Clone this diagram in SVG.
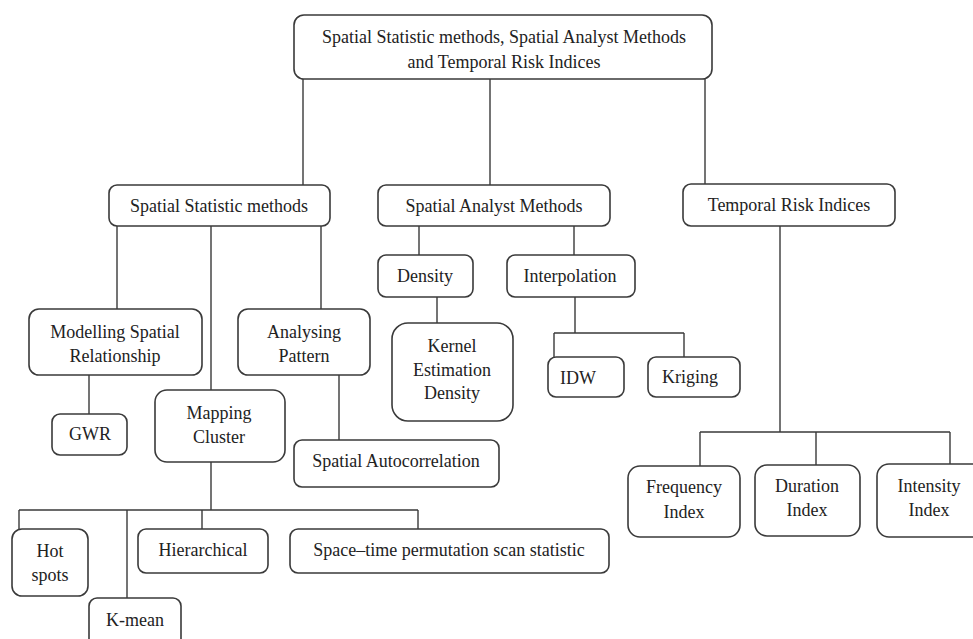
<svg xmlns="http://www.w3.org/2000/svg" width="973" height="639" viewBox="0 0 973 639">
<style>
.n rect{fill:#fff;stroke:#3a3a3a;stroke-width:1.6}
.n text{font-family:'Liberation Serif','Times New Roman',Times,serif;font-size:18px;fill:#222;text-anchor:middle}
#edges path{fill:none;stroke:#3a3a3a;stroke-width:1.4}
</style>
<rect width="973" height="639" fill="#fff"/>
<g id="edges">
<path d="M303,79V185M490,79V185M705,79V184"/>
<path d="M117,226V309M211,226V390M321,226V309"/>
<path d="M419,226V255M574,226V255M437,297V323"/>
<path d="M575,297V333M554,333H684M554,333V357M684,333V357"/>
<path d="M780,226V432M700,432H950M700,432V466M816,432V465M950,432V464"/>
<path d="M89,375V414M339,375V440"/>
<path d="M211,462V510M19,510H418M19,510V529M127,510V598M202,510V529M418,510V529"/>
</g>
<g id="top" class="n"><rect x="294" y="15" width="418" height="64" rx="10"/><text x="504" y="43">Spatial Statistic methods, Spatial Analyst Methods</text><text x="504" y="68">and Temporal Risk Indices</text></g>
<g id="ss" class="n"><rect x="109" y="185" width="221" height="41" rx="8"/><text x="219" y="212">Spatial Statistic methods</text></g>
<g id="sam" class="n"><rect x="378" y="185" width="232" height="41" rx="8"/><text x="494" y="212">Spatial Analyst Methods</text></g>
<g id="tri" class="n"><rect x="683" y="184" width="212" height="42" rx="8"/><text x="789" y="211">Temporal Risk Indices</text></g>
<g id="modelling" class="n"><rect x="29" y="309" width="173" height="66" rx="10"/><text x="115" y="338">Modelling Spatial</text><text x="115" y="362">Relationship</text></g>
<g id="analysing" class="n"><rect x="238" y="309" width="132" height="66" rx="10"/><text x="304" y="338">Analysing</text><text x="304" y="362">Pattern</text></g>
<g id="density" class="n"><rect x="378" y="255" width="95" height="42" rx="8"/><text x="425" y="282">Density</text></g>
<g id="interpolation" class="n"><rect x="507" y="255" width="128" height="42" rx="8"/><text x="570" y="282">Interpolation</text></g>
<g id="ked" class="n"><rect x="392" y="323" width="121" height="98" rx="16"/><text x="452" y="352">Kernel</text><text x="452" y="376">Estimation</text><text x="452" y="399">Density</text></g>
<g id="idw" class="n"><rect x="548" y="357" width="76" height="40" rx="8"/><text x="578" y="384">IDW</text></g>
<g id="kriging" class="n"><rect x="648" y="357" width="92" height="40" rx="8"/><text x="690" y="383">Kriging</text></g>
<g id="gwr" class="n"><rect x="52" y="414" width="75" height="41" rx="8"/><text x="90" y="440">GWR</text></g>
<g id="mapping" class="n"><rect x="155" y="390" width="130" height="72" rx="12"/><text x="219" y="419">Mapping</text><text x="219" y="443">Cluster</text></g>
<g id="autocorr" class="n"><rect x="294" y="440" width="205" height="47" rx="8"/><text x="396" y="467">Spatial Autocorrelation</text></g>
<g id="hotspots" class="n"><rect x="12" y="529" width="76" height="67" rx="10"/><text x="50" y="557">Hot</text><text x="50" y="581">spots</text></g>
<g id="kmean" class="n"><rect x="89" y="598" width="92" height="50" rx="8"/><text x="135" y="626">K-mean</text></g>
<g id="hierarchical" class="n"><rect x="138" y="529" width="130" height="44" rx="8"/><text x="203" y="556">Hierarchical</text></g>
<g id="spacetime" class="n"><rect x="290" y="529" width="319" height="44" rx="8"/><text x="449" y="556">Space–time permutation scan statistic</text></g>
<g id="frequency" class="n"><rect x="628" y="466" width="112" height="71" rx="12"/><text x="684" y="493">Frequency</text><text x="684" y="518">Index</text></g>
<g id="duration" class="n"><rect x="755" y="465" width="105" height="71" rx="12"/><text x="807" y="492">Duration</text><text x="807" y="516">Index</text></g>
<g id="intensity" class="n"><rect x="877" y="464" width="110" height="73" rx="12"/><text x="929" y="492">Intensity</text><text x="929" y="516">Index</text></g>
</svg>
